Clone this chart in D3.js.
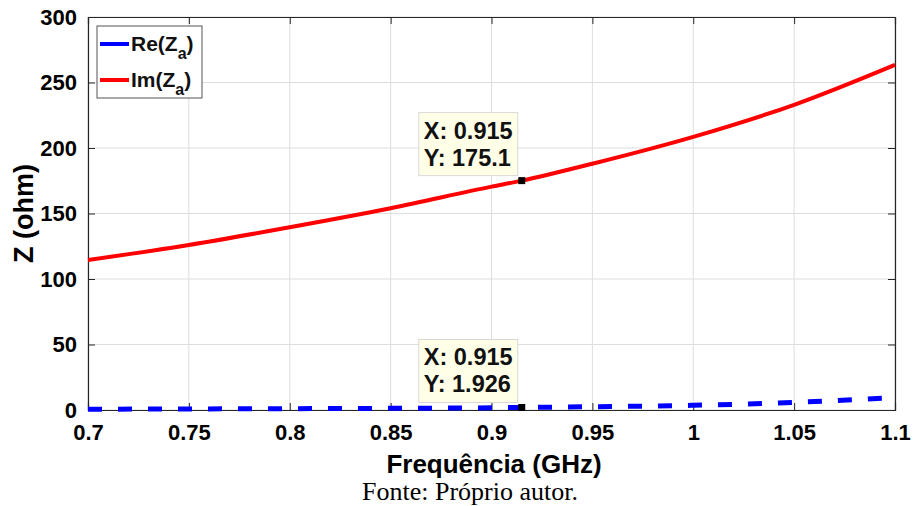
<!DOCTYPE html>
<html>
<head>
<meta charset="utf-8">
<script src="https://cdnjs.cloudflare.com/ajax/libs/d3/7.8.5/d3.min.js"></script>
<style>
  body { margin: 0; background: #fff; }
  svg { display: block; }
</style>
</head>
<body>
<div id="chart"></div>
<script>
// frequency (GHz) and impedance
var freq = [0.7, 0.75, 0.8, 0.85, 0.9, 0.915, 0.95, 1.0, 1.05, 1.1];
var reZ  = [0.6, 0.8, 1.0, 1.3, 1.7, 1.926, 2.5, 3.6, 5.8, 9.6];
var imZ  = [114.5, 126, 139.5, 154, 170.5, 175.1, 188, 208.5, 233, 263.5];
var xTicks = [0.7, 0.75, 0.8, 0.85, 0.9, 0.95, 1, 1.05, 1.1];
var yTicks = [0, 50, 100, 150, 200, 250, 300];
var tips = [
    { x: 0.915, y: 175.1, label: ["X: 0.915", "Y: 175.1"] },
    { x: 0.915, y: 1.926, label: ["X: 0.915", "Y: 1.926"] }
];

var W = 914, H = 506;
var margin = { top: 17, right: 19, bottom: 96, left: 88 };
var width = W - margin.left - margin.right;
var height = H - margin.top - margin.bottom;

var svg = d3.select("#chart")
    .append("svg")
        .attr("width", W)
        .attr("height", H)
        .style("font-family", "'Liberation Sans', Arial, sans-serif");

var g = svg.append("g")
    .attr("transform", "translate(" + margin.left + "," + margin.top + ")");

var xScale = d3.scaleLinear().domain([0.7, 1.1]).range([0, width]);
var yScale = d3.scaleLinear().domain([0, 300]).range([height, 0]);

// grid
g.append("g")
    .selectAll("line")
    .data(xTicks)
    .join("line")
        .attr("x1", d => xScale(d)).attr("x2", d => xScale(d))
        .attr("y1", 0).attr("y2", height)
        .attr("stroke", "#dedede").attr("stroke-width", 1);
g.append("g")
    .selectAll("line")
    .data(yTicks)
    .join("line")
        .attr("x1", 0).attr("x2", width)
        .attr("y1", d => yScale(d)).attr("y2", d => yScale(d))
        .attr("stroke", "#dedede").attr("stroke-width", 1);

// axes (MATLAB style, ticks inward)
var xAxis = g.append("g")
    .attr("transform", "translate(0," + height + ")")
    .call(d3.axisBottom(xScale).tickValues(xTicks).tickSize(-7).tickPadding(12).tickFormat(d => String(d)));
var xTop = g.append("g")
    .call(d3.axisTop(xScale).tickValues(xTicks).tickSize(-7).tickFormat(""));
var yAxis = g.append("g")
    .call(d3.axisLeft(yScale).tickValues(yTicks).tickSize(-7).tickPadding(11));
var yRight = g.append("g")
    .attr("transform", "translate(" + width + ",0)")
    .call(d3.axisRight(yScale).tickValues(yTicks).tickSize(-7).tickFormat(""));

[xAxis, xTop, yAxis, yRight].forEach(function (a) {
    a.selectAll("path").attr("stroke", "#262626").attr("stroke-width", 1.2);
    a.selectAll("line").attr("stroke", "#262626");
    a.selectAll("text")
        .attr("fill", "#000")
        .style("font-size", "22px")
        .style("font-weight", "bold");
});
xAxis.selectAll("text").attr("dy", "0.8em");

// curves
var line = d3.line()
    .x(function (d) { return xScale(d[0]); })
    .y(function (d) { return yScale(d[1]); })
    .curve(d3.curveMonotoneX);

g.append("path")
    .datum(d3.zip(freq, imZ))
    .attr("d", line)
    .attr("fill", "none")
    .attr("stroke", "#ff0000")
    .attr("stroke-width", 4);

g.append("path")
    .datum(d3.zip(freq, reZ))
    .attr("d", line)
    .attr("fill", "none")
    .attr("stroke", "#0000ff")
    .attr("stroke-width", 5)
    .attr("stroke-dasharray", "14,16");

// data tips
tips.forEach(function (t) {
    var px = xScale(t.x), py = yScale(t.y);
    var bw = 99, bh = 63;
    var tg = g.append("g");
    tg.append("rect")
        .attr("x", px - 103).attr("y", py - 68)
        .attr("width", bw).attr("height", bh)
        .attr("fill", "#ffffe8")
        .attr("stroke", "#d8d8d8")
        .attr("stroke-width", 1);
    tg.selectAll("text")
        .data(t.label)
        .join("text")
            .attr("x", px - 98)
            .attr("y", function (d, i) { return py - 42 + i * 27; })
            .style("font-size", "23.5px")
            .style("font-weight", "bold")
            .attr("fill", "#111")
            .text(d => d);
    tg.append("rect")
        .attr("x", px - 3.5).attr("y", py - 3.5)
        .attr("width", 7).attr("height", 7)
        .attr("fill", "#000");
});

// legend
var legend = g.append("g").attr("transform", "translate(9,9)");
legend.append("rect")
    .attr("width", 105).attr("height", 72)
    .attr("fill", "#fff")
    .attr("stroke", "#555")
    .attr("stroke-width", 1);
var legendItems = [
    { name: "Re", color: "#0000ff" },
    { name: "Im", color: "#ff0000" }
];
legendItems.forEach(function (d, i) {
    var ly = 18 + i * 36;
    legend.append("line")
        .attr("x1", 3).attr("x2", 32)
        .attr("y1", ly).attr("y2", ly)
        .attr("stroke", d.color).attr("stroke-width", 4);
    var txt = legend.append("text")
        .attr("x", 34).attr("y", ly + 7)
        .style("font-size", "21px")
        .style("font-weight", "bold")
        .attr("fill", "#111");
    txt.append("tspan").text(d.name + "(Z");
    txt.append("tspan").attr("dy", 8).style("font-size", "16px").text("a");
    txt.append("tspan").attr("dy", -8).text(")");
});

// axis labels
svg.append("text")
    .attr("x", 494)
    .attr("y", 473)
    .attr("text-anchor", "middle")
    .style("font-size", "26px")
    .style("font-weight", "bold")
    .text("Frequência (GHz)");

svg.append("text")
    .attr("transform", "translate(33," + (margin.top + height / 2) + ") rotate(-90)")
    .attr("text-anchor", "middle")
    .style("font-size", "27px")
    .style("font-weight", "bold")
    .text("Z (ohm)");

svg.append("text")
    .attr("x", 470)
    .attr("y", 500)
    .attr("text-anchor", "middle")
    .style("font-family", "'Liberation Serif', 'Times New Roman', serif")
    .style("font-size", "26px")
    .text("Fonte: Próprio autor.");
</script>
</body>
</html>
